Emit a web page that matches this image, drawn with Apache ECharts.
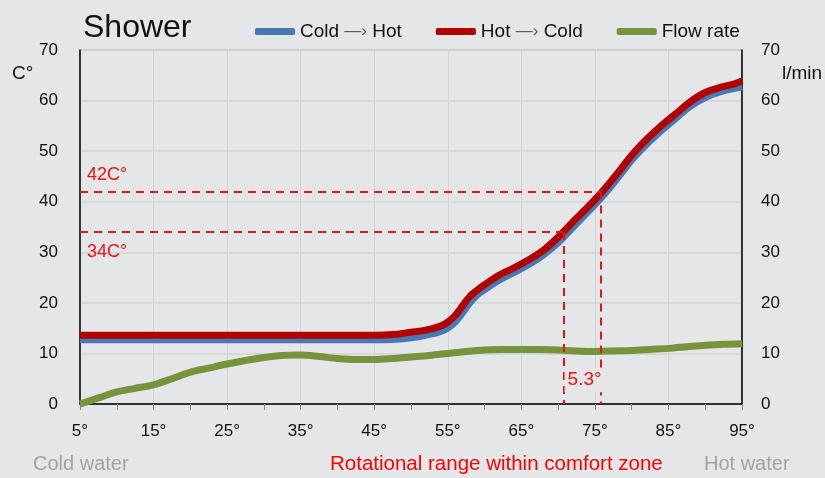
<!DOCTYPE html>
<html>
<head>
<meta charset="utf-8">
<script src="https://cdn.jsdelivr.net/npm/echarts@6/dist/echarts.min.js"></script>
<style>
html,body{margin:0;padding:0;background:#e5e6e8;}
#chart{width:825px;height:478px;}
</style>
</head>
<body>
<div id="chart"></div>
<script>
// Rotation angle (degrees) for the temperature curves
const angles = [5, 10, 15, 20, 25, 30, 35, 40, 45, 48, 50, 52, 54, 55, 56, 57, 58, 59, 60, 62, 64, 66, 68, 70, 72, 74, 76, 78, 80, 82, 84, 86, 88, 90, 92, 94, 95];
// Cold -> Hot temperature (C°)
const coldToHot = [12.7, 12.7, 12.7, 12.7, 12.7, 12.7, 12.7, 12.7, 12.7, 12.8, 13.1, 13.6, 14.3, 15.0, 16.2, 18.0, 20.0, 21.6, 22.6, 24.5, 26.0, 27.6, 29.5, 31.9, 34.9, 37.9, 41.0, 44.5, 48.2, 51.3, 54.0, 56.5, 58.9, 60.6, 61.7, 62.4, 62.7];
// Hot -> Cold temperature (C°)
const hotToCold = [13.6, 13.6, 13.6, 13.6, 13.6, 13.6, 13.6, 13.6, 13.6, 13.8, 14.2, 14.6, 15.4, 16.2, 17.5, 19.4, 21.3, 22.5, 23.6, 25.5, 26.9, 28.5, 30.4, 33.0, 36.0, 38.9, 42.0, 45.5, 49.2, 52.3, 55.0, 57.4, 59.8, 61.6, 62.6, 63.3, 63.9];
// Flow rate (l/min)
const flowAngles = [5, 7.5, 10, 12.5, 15, 17.5, 20, 22.5, 25, 27.5, 30, 32.5, 35, 37.5, 40, 42.5, 45, 47.5, 50, 52.5, 55, 57.5, 60, 62.5, 65, 67.5, 70, 72.5, 75, 77.5, 80, 82.5, 85, 87.5, 90, 92.5, 95];
const flowRate = [0, 1.2, 2.4, 3.1, 3.8, 5.0, 6.3, 7.1, 7.9, 8.6, 9.2, 9.6, 9.7, 9.4, 9.0, 8.8, 8.8, 9.0, 9.3, 9.6, 10.0, 10.4, 10.7, 10.8, 10.8, 10.8, 10.7, 10.5, 10.4, 10.5, 10.6, 10.8, 11.0, 11.3, 11.6, 11.8, 11.9];
// Comfort zone annotations
const comfortTemps = [42, 34];
const comfortAngles = [75.8, 70.7];
const comfortLabels = ['42C°', '34C°'];
const rangeLabel = '5.3°';
const rangeLabelPos = [73.6, 4.7];
const seriesNames = ['Cold → Hot', 'Hot → Cold', 'Flow rate'];

const FONT = '"Liberation Sans", Arial, sans-serif';
const BG = '#e5e6e8';
const RED = '#ee1111';

const zip = (xs, ys) => xs.map((x, i) => [x, ys[i]]);

const chart = echarts.init(document.getElementById('chart'), null, {renderer: 'canvas'});

const legendFmt = function (name) {
  const parts = name.split(' → ');
  if (parts.length === 2) return '{t|' + parts[0] + '} {a|—›} {t|' + parts[1] + '}';
  return '{t|' + name + '}';
};

chart.setOption({
  backgroundColor: BG,
  animation: false,
  textStyle: {fontFamily: FONT},
  title: {
    text: 'Shower', left: 78, top: 7,
    textStyle: {fontFamily: FONT, fontSize: 32, fontWeight: 'normal', color: '#111'}
  },
  legend: {
    left: 250, top: 17, itemWidth: 40, itemHeight: 7, itemGap: 34,
    data: seriesNames.map(n => ({name: n, icon: 'roundRect'})),
    formatter: legendFmt,
    textStyle: {
      fontFamily: FONT, fontSize: 19, color: '#111',
      rich: {
        t: {fontFamily: FONT, fontSize: 19, color: '#111'},
        a: {fontFamily: FONT, fontSize: 17, color: '#555'}
      }
    }
  },
  grid: {left: 80, right: 83, top: 50, bottom: 74, show: true, borderColor: '#9a9a9a', borderWidth: 1, backgroundColor: 'transparent'},
  xAxis: {
    type: 'value', min: 5, max: 95, interval: 10,
    axisLine: {show: true, onZero: false, lineStyle: {color: '#000', width: 1.5}},
    axisTick: {show: true, length: 6, lineStyle: {color: '#888'}},
    minorTick: {show: true, splitNumber: 2, length: 6, lineStyle: {color: '#888'}},
    axisLabel: {fontFamily: FONT, fontSize: 17, color: '#111', margin: 19, formatter: v => v + '°'},
    splitLine: {show: true, lineStyle: {color: '#d2d3d5', width: 1}}
  },
  yAxis: [
    {
      type: 'value', min: 0, max: 70, interval: 10, position: 'left',
      axisLine: {show: true, lineStyle: {color: '#000', width: 1.5}},
      axisTick: {show: false},
      axisLabel: {fontFamily: FONT, fontSize: 17, color: '#111', margin: 22},
      splitLine: {show: true, lineStyle: {color: '#d2d3d5', width: 1.5}}
    },
    {
      type: 'value', min: 0, max: 70, interval: 10, position: 'right',
      axisLine: {show: true, lineStyle: {color: '#000', width: 1.5}},
      axisTick: {show: false},
      axisLabel: {fontFamily: FONT, fontSize: 17, color: '#111', margin: 19},
      splitLine: {show: false}
    }
  ],
  graphic: [
    {type: 'text', left: 12, top: 64, style: {text: 'C°', font: '19px ' + FONT, fill: '#111'}},
    {type: 'text', left: 782, top: 64, style: {text: 'l/min', font: '19px ' + FONT, fill: '#111'}},
    {type: 'text', left: 33, top: 454, style: {text: 'Cold water', font: '20px ' + FONT, fill: '#a3a3a3'}},
    {type: 'text', left: 330, top: 454, style: {text: 'Rotational range within comfort zone', font: '20.5px ' + FONT, fill: '#ff0000'}},
    {type: 'text', left: 704, top: 454, style: {text: 'Hot water', font: '20px ' + FONT, fill: '#a3a3a3'}}
  ],
  series: [
    {
      name: seriesNames[0], type: 'line', yAxisIndex: 0, smooth: 0.3, showSymbol: false,
      data: zip(angles, coldToHot),
      lineStyle: {color: '#4a78b3', width: 7, cap: 'butt'}, itemStyle: {color: '#4a78b3'}, z: 2
    },
    {
      name: seriesNames[1], type: 'line', yAxisIndex: 0, smooth: 0.3, showSymbol: false,
      data: zip(angles, hotToCold),
      lineStyle: {color: '#b00000', width: 7, cap: 'butt'}, itemStyle: {color: '#b00000'}, z: 3,
      markLine: {
        silent: true, symbol: 'none', animation: false,
        lineStyle: {color: RED, width: 2, type: [8, 6]},
        data: [
          [{coord: [5, comfortTemps[0]], label: {show: true, formatter: comfortLabels[0], position: 'insideStartTop', distance: [7, 8], color: RED, fontSize: 18, fontFamily: FONT}},
           {coord: [comfortAngles[0], comfortTemps[0]]}],
          [{coord: [5, comfortTemps[1]], label: {show: true, formatter: comfortLabels[1], position: 'insideStartBottom', distance: [7, 11], color: RED, fontSize: 18, fontFamily: FONT}},
           {coord: [comfortAngles[1], comfortTemps[1]]}],
          [{coord: [comfortAngles[0], comfortTemps[0]], label: {show: false}}, {coord: [comfortAngles[0], 0]}],
          [{coord: [comfortAngles[1], comfortTemps[1]], label: {show: false}}, {coord: [comfortAngles[1], 0]}]
        ]
      }
    },
    {
      name: seriesNames[2], type: 'line', yAxisIndex: 1, smooth: 0.3, showSymbol: false,
      data: zip(flowAngles, flowRate),
      lineStyle: {color: '#77933c', width: 7, cap: 'butt'}, itemStyle: {color: '#77933c'}, z: 4,
      markPoint: {
        silent: true, symbol: 'rect', symbolSize: [40, 24], z: 10,
        itemStyle: {color: BG},
        label: {show: true, position: 'inside', color: RED, fontSize: 19, fontFamily: FONT, formatter: rangeLabel},
        data: [{coord: rangeLabelPos}]
      }
    }
  ]
});
</script>
</body>
</html>
